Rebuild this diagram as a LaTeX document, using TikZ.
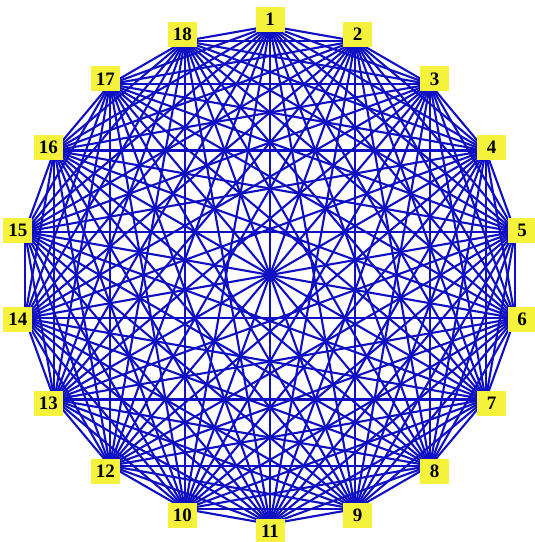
\documentclass[tikz,border=0pt]{standalone}
\usepackage{fontspec}
\setmainfont{Liberation Serif}
\definecolor{edgeblue}{RGB}{15,15,195}
\definecolor{labyellow}{RGB}{245,242,60}
\begin{document}
\begin{tikzpicture}[x=1pt,y=-1pt,
  edge/.style={draw=edgeblue, line width=2.1pt},
  lab/.style={fill=labyellow, font=\bfseries\fontsize{19}{19}\selectfont, inner xsep=3pt, inner ysep=0pt, minimum height=25pt, minimum width=29pt}]
\useasboundingbox (0,0) rectangle (535,542);
\foreach \k in {0,...,17} {
  \coordinate (v\k) at ([shift={(270,275)}]{20*\k-90}:249);
}
\foreach \i in {0,...,16} {
  \pgfmathtruncatemacro\s{\i+1}
  \foreach \j in {\s,...,17} {
    \draw[edge] (v\i) -- (v\j);
  }
}
\foreach \k/\lbl in {0/1,1/2,2/3,3/4,4/5,5/6,6/7,7/8,8/9,9/11,10/10,11/12,12/13,13/14,14/15,15/16,16/17,17/18} {
  \node[lab] (n\lbl) at ([shift={(270,275)}]{20*\k-90}:256) {\lbl};
}
\end{tikzpicture}
\end{document}
